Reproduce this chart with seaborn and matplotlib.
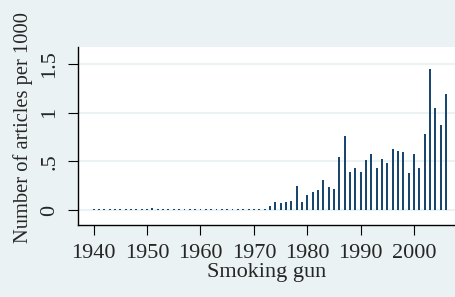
import numpy as np
import pandas as pd
import seaborn as sns
import matplotlib.pyplot as plt

# ---- data ----
years = list(range(1940, 2007))
early = [0.01] * 33           # 1940-1972, barely visible
early[11] = 0.016             # 1951 a touch higher
late = [0.038, 0.082, 0.075, 0.082, 0.096, 0.243, 0.082, 0.154, 0.181, 0.202,   # 1973-1982
        0.311, 0.236, 0.212, 0.547, 0.758, 0.389, 0.430, 0.386, 0.516, 0.574,   # 1983-1992
        0.434, 0.523, 0.482, 0.622, 0.608, 0.591, 0.379, 0.574, 0.434, 0.776,   # 1993-2002
        1.445, 1.042, 0.875, 1.186]                                             # 2003-2006
values = early + late
yticks = [0, 0.5, 1, 1.5]
yticklabels = ["0", ".5", "1", "1.5"]
xticks = [1940, 1950, 1960, 1970, 1980, 1990, 2000]

df = pd.DataFrame({"year": years, "rate": values})

bg = "#eaf2f3"
navy = "#1a476f"

sns.set_theme(style="white")
plt.rcParams["font.family"] = ["Liberation Serif", "DejaVu Serif"]

fig = plt.figure(figsize=(4.56, 2.97), dpi=100, facecolor=bg)
ax = fig.add_axes([78 / 456, 1 - 225 / 297, 1 - 78 / 456, (225 - 47.3) / 297])
ax.set_facecolor("white")

sns.barplot(data=df, x="year", y="rate", native_scale=True, color=navy,
            width=0.36, saturation=1, linewidth=0, ax=ax)

ax.set_xlim(1937.06, 2007.85)
ax.set_ylim(-0.154, 1.669)
ax.set_yticks(yticks)
ax.set_yticklabels(yticklabels, rotation=90, va="center")
ax.set_xticks(xticks)
for y in yticks:
    ax.axhline(y, color=bg, lw=1.5, zorder=0)

ax.tick_params(axis="both", direction="out", length=7.5, width=0.8,
               color="black", labelsize=16, pad=6, left=True, bottom=True)
ax.set_xlabel("Smoking gun", fontsize=16, labelpad=0)
ax.set_ylabel("Number of articles per 1000", fontsize=14.8)
ax.yaxis.set_label_coords(-0.12, 0.55)

for s in ["top", "right"]:
    ax.spines[s].set_visible(False)
for s in ["left", "bottom"]:
    ax.spines[s].set_color("black")
    ax.spines[s].set_linewidth(1.0)

fig.savefig("out.png", dpi=100, facecolor=bg)
